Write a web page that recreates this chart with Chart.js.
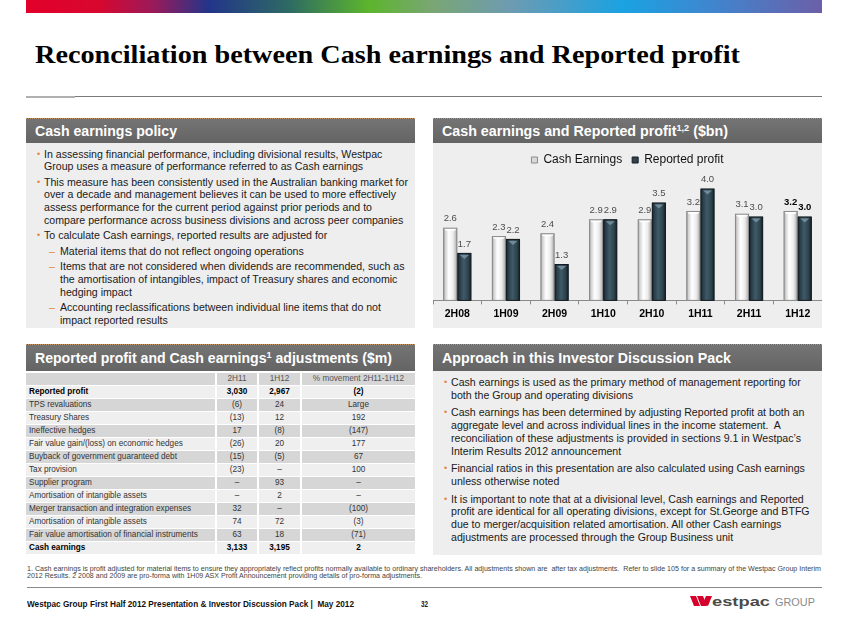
<!DOCTYPE html>
<html lang="en">
<head>
  <meta charset="UTF-8" />
  <title>Reconciliation between Cash earnings and Reported profit</title>
  <script src="https://cdn.jsdelivr.net/npm/chart.js@4"></script>
  <style>
    html, body { margin: 0; padding: 0; }
    body {
      width: 848px; height: 635px; position: relative; overflow: hidden;
      background: #fff; font-family: "Liberation Sans", Arial, sans-serif; color: #1a1a1a;
    }
    .abs { position: absolute; }
    .fit { white-space: nowrap; display: inline-block; transform-origin: left center; }
    .topbar {
      left: 26px; top: 0; width: 796px; height: 13px;
      background: linear-gradient(90deg, #e2002a 0%, #d8072e 9%, #9a1a5a 16%, #22358a 23%, #2e6a64 33%, #5cb52c 43%, #7aa674 51%, #6d9bb2 61%, #1aa2e2 75%, #3f86cf 86%, #6b5fa8 100%);
    }
    .title {
      left: 35px; top: 40px; font-family: "Liberation Serif", "Times New Roman", serif;
      font-weight: bold; font-size: 25px; color: #000; line-height: 30px;
    }
    .rule1 { left: 75px; top: 96px; width: 747px; height: 1px; background: #7a7a7a; }
    .rule1b { left: 26px; top: 96px; width: 49px; height: 2px; background: #b0b0b0; }
    .head {
      height: 25px; background: linear-gradient(#747474, #646464);
      border-top: 1px dotted #c7935e; box-sizing: border-box;
      color: #fff; font-weight: bold; font-size: 14px; line-height: 24px; padding-left: 9px;
    }
    .head sup { font-size: 9px; line-height: 0; vertical-align: 5px; }
    .pane { background: #eeeeee; }
    .txt { font-size: 10.6px; line-height: 12.7px; white-space: nowrap; }
    .txt .p { position: relative; padding-left: 18px; margin-top: 2.8px; }
    .txt .p:first-child { margin-top: 0; }
    .txt .p::before { content: "\2022"; position: absolute; left: 11px; top: 0; color: #e8843c; font-size: 9px; }
    .txt .s { position: relative; padding-left: 34px; margin-top: 2.8px; }
    .txt .s::before { content: "\2013"; position: absolute; left: 23px; top: 0; color: #e8843c; }
    .txt2 .p { margin-top: 5px; }
    .tbl {
      left: 26px; top: 373px; width: 389px; background: #fff;
      display: grid; grid-template-columns: 189px 40px 41px 113px; column-gap: 2px; row-gap: 1px;
      grid-auto-rows: 12px; font-size: 8.2px; line-height: 12px; color: #333;
    }
    .tbl div { text-align: center; white-space: nowrap; overflow: hidden; }
    .tbl div.lab { text-align: left; padding-left: 3px; }
    .tbl .g { background: #d6d6d6; }
    .tbl .l { background: #efefef; }
    .tbl .b { font-weight: bold; color: #000; }
    .tbl .h { color: #555; }
    .foot { font-size: 6.6px; line-height: 6.4px; color: #444; left: 27px; }
    .rule2 { left: 27px; top: 587px; width: 795px; height: 1px; background: #8a8a8a; }
    .ftext { left: 27px; top: 598px; font-size: 8.4px; font-weight: bold; color: #111; line-height: 12px; }
    .pnum { left: 421px; top: 598px; font-size: 8.4px; font-weight: bold; line-height: 12px; }
  </style>
</head>
<body>

<div class="abs topbar"></div>
<div class="abs title"><span class="fit" data-w="705">Reconciliation between Cash earnings and Reported profit</span></div>
<div class="abs rule1"></div>
<div class="abs rule1b"></div>

<!-- top left: policy text -->
<div class="abs head" style="left:26px; top:118px; width:389px;"><span class="fit" data-w="142">Cash earnings policy</span></div>
<div class="abs pane txt" style="left:26px; top:143px; width:389px; height:185px; box-sizing:border-box; padding-top:4.5px;">
  <div class="p">In assessing financial performance, including divisional results, Westpac<br>Group uses a measure of performance referred to as Cash earnings</div>
  <div class="p">This measure has been consistently used in the Australian banking market for<br>over a decade and management believes it can be used to more effectively<br>assess performance for the current period against prior periods and to<br>compare performance across business divisions and across peer companies</div>
  <div class="p">To calculate Cash earnings, reported results are adjusted for</div>
  <div class="s">Material items that do not reflect ongoing operations</div>
  <div class="s">Items that are not considered when dividends are recommended, such as<br>the amortisation of intangibles, impact of Treasury shares and economic<br>hedging impact</div>
  <div class="s">Accounting reclassifications between individual line items that do not<br>impact reported results</div>
</div>

<!-- top right: chart -->
<div class="abs head" style="left:433px; top:118px; width:389px;"><span class="fit" data-w="286">Cash earnings and Reported profit<sup>1,2</sup> ($bn)</span></div>
<div class="abs pane" style="left:433px; top:143px; width:389px; height:185px;">
  <canvas id="profitChart"></canvas>
</div>

<!-- bottom left: table -->
<div class="abs head" style="left:26px; top:344px; width:389px; height:27px; line-height:26px;"><span class="fit" data-w="357">Reported profit and Cash earnings<sup>1</sup> adjustments ($m)</span></div>
<div class="abs tbl" id="adjTable"></div>

<!-- bottom right: approach text -->
<div class="abs head" style="left:433px; top:344px; width:389px; height:27px; line-height:26px;"><span class="fit" data-w="289">Approach in this Investor Discussion Pack</span></div>
<div class="abs pane txt txt2" style="left:433px; top:371px; width:389px; height:184px; box-sizing:border-box; padding-top:5px;">
  <div class="p">Cash earnings is used as the primary method of management reporting for<br>both the Group and operating divisions</div>
  <div class="p">Cash earnings has been determined by adjusting Reported profit at both an<br>aggregate level and across individual lines in the income statement.&nbsp; A<br>reconciliation of these adjustments is provided in sections 9.1 in Westpac’s<br>Interim Results 2012 announcement</div>
  <div class="p">Financial ratios in this presentation are also calculated using Cash earnings<br>unless otherwise noted</div>
  <div class="p">It is important to note that at a divisional level, Cash earnings and Reported<br>profit are identical for all operating divisions, except for St.George and BTFG<br>due to merger/acquisition related amortisation. All other Cash earnings<br>adjustments are processed through the Group Business unit</div>
</div>

<!-- footer -->
<div class="abs foot" style="top:566px;"><span class="fit" data-w="794">1. Cash earnings is profit adjusted for material items to ensure they appropriately reflect profits normally available to ordinary shareholders. All adjustments shown are&nbsp; after tax adjustments.&nbsp; Refer to slide 105 for a summary of the Westpac Group Interim</span></div>
<div class="abs foot" style="top:573px;"><span class="fit" data-w="395">2012 Results. 2 2008 and 2009 are pro-forma with 1H09 ASX Profit Announcement providing details of pro-forma adjustments.</span></div>
<div class="abs rule2"></div>
<div class="abs ftext"><span class="fit" data-w="327">Westpac Group First Half 2012 Presentation &amp; Investor Discussion Pack |&nbsp; May 2012</span></div>
<div class="abs pnum"><span class="fit" data-w="7">32</span></div>
<svg class="abs" style="left:688px; top:592px;" width="134" height="18" viewBox="0 0 134 18">
  <polygon points="2,4 8,4 12,14 6,14" fill="#d5002b"/>
  <polygon points="9,4 15,4 19,14 13,14" fill="#d5002b"/>
  <polygon points="18,4 24,4 20,14 15,11" fill="#d5002b"/>
  <text x="24" y="14" font-family="Liberation Sans, Arial, sans-serif" font-weight="bold" font-size="13.5" fill="#4a4a4a" textLength="58" lengthAdjust="spacingAndGlyphs">estpac</text>
  <text x="87" y="14" font-family="Liberation Sans, Arial, sans-serif" font-size="11.5" fill="#8a8a8a" textLength="40" lengthAdjust="spacingAndGlyphs">GROUP</text>
</svg>

<script>
  // chart data ($bn)
  const periods = ['2H08', '1H09', '2H09', '1H10', '2H10', '1H11', '2H11', '1H12'];
  const cashEarnings = [2.6, 2.3, 2.4, 2.9, 2.9, 3.2, 3.1, 3.2];
  const reportedProfit = [1.7, 2.2, 1.3, 2.9, 3.5, 4.0, 3.0, 3.0];

  // table data ($m)
  const tableHead = ['', '2H11', '1H12', '% movement 2H11-1H12'];
  const rowLabels = ['Reported profit', 'TPS revaluations', 'Treasury Shares', 'Ineffective hedges',
    'Fair value gain/(loss) on economic hedges', 'Buyback of government guaranteed debt', 'Tax provision',
    'Supplier program', 'Amortisation of intangible assets', 'Merger transaction and integration expenses',
    'Amortisation of intangible assets', 'Fair value amortisation of financial instruments', 'Cash earnings'];
  const col2H11 = ['3,030', '(6)', '(13)', '17', '(26)', '(15)', '(23)', '–', '–', '32', '74', '63', '3,133'];
  const col1H12 = ['2,967', '24', '12', '(8)', '20', '(5)', '–', '93', '2', '–', '72', '18', '3,195'];
  const colMove = ['(2)', 'Large', '192', '(147)', '177', '67', '100', '–', '–', '(100)', '(3)', '(71)', '2'];
  const boldRows = ['Reported profit', 'Cash earnings'];

  // build table
  const tbl = document.getElementById('adjTable');
  tableHead.forEach((t, i) => {
    const d = document.createElement('div');
    d.className = 'g h' + (i === 0 ? ' lab' : '');
    d.textContent = t;
    tbl.appendChild(d);
  });
  rowLabels.forEach((lab, r) => {
    const shade = r % 2 === 0 ? 'l' : 'g';
    const bold = boldRows.includes(lab) ? ' b' : '';
    [lab, col2H11[r], col1H12[r], colMove[r]].forEach((t, i) => {
      const d = document.createElement('div');
      d.className = shade + bold + (i === 0 ? ' lab' : '');
      d.textContent = t;
      tbl.appendChild(d);
    });
  });

  // squeeze/stretch single-line texts to the widths seen on the slide
  document.querySelectorAll('.fit').forEach(el => {
    const w = +el.dataset.w;
    const real = el.getBoundingClientRect().width;
    if (real > 0) el.style.transform = `scaleX(${w / real})`;
  });

  // shading so the bars look like the rounded columns of the slide
  const barShade = {
    id: 'barShade',
    afterDatasetsDraw(chart) {
      const c = chart.ctx;
      chart.data.datasets.forEach((ds, di) => {
        chart.getDatasetMeta(di).data.forEach(bar => {
          const { x, y, base, width } = bar.getProps(['x', 'y', 'base', 'width'], true);
          const l = x - width / 2, r = x + width / 2;
          const g = c.createLinearGradient(l, 0, r, 0);
          if (di === 0) {
            g.addColorStop(0, '#9c9c9c');
            g.addColorStop(0.15, '#d2d2d2');
            g.addColorStop(0.4, '#ffffff');
            g.addColorStop(0.7, '#ececec');
            g.addColorStop(0.9, '#bdbdbd');
            g.addColorStop(1, '#8e8e8e');
          } else {
            g.addColorStop(0, '#18232a');
            g.addColorStop(0.2, '#2c404b');
            g.addColorStop(0.45, '#3f5a68');
            g.addColorStop(0.75, '#2f4550');
            g.addColorStop(1, '#141d22');
          }
          c.save();
          c.fillStyle = g;
          c.fillRect(l + 0.5, y + 0.5, width - 1, base - y - 0.5);
          // top cap
          if (di === 0) {
            c.fillStyle = 'rgba(255,255,255,0.9)';
            c.beginPath();
            c.moveTo(l + 0.5, y + 0.5); c.lineTo(r - 0.5, y + 0.5);
            c.lineTo(r - 2.5, y + 3); c.lineTo(l + 2.5, y + 3); c.closePath();
            c.fill();
            c.strokeStyle = '#8a8a8a';
          } else {
            c.fillStyle = '#6f8b99';
            c.beginPath();
            c.moveTo(l + 2.5, y + 2); c.lineTo(r - 2.5, y + 2);
            c.lineTo(x, y + 6); c.closePath();
            c.fill();
            c.strokeStyle = '#141c21';
          }
          c.lineWidth = 1;
          c.strokeRect(l + 0.5, y + 0.5, width - 1, base - y - 0.5);
          c.restore();
        });
      });
    }
  };

  // value labels above each bar, last period in bold
  const valueLabels = {
    id: 'valueLabels',
    afterDatasetsDraw(chart) {
      const c = chart.ctx;
      c.save();
      c.textAlign = 'center';
      c.textBaseline = 'middle';
      chart.data.datasets.forEach((ds, di) => {
        chart.getDatasetMeta(di).data.forEach((bar, i) => {
          const last = i === periods.length - 1;
          c.font = (last ? 'bold 9.5px ' : '9.5px ') + '"Liberation Sans", Arial, sans-serif';
          c.fillStyle = last ? '#000' : '#4d4d4d';
          c.fillText(ds.data[i].toFixed(1), bar.x, bar.y - 9);
        });
      });
      c.restore();
    }
  };

  const font = '"Liberation Sans", Arial, sans-serif';
  new Chart(document.getElementById('profitChart'), {
    type: 'bar',
    data: {
      labels: periods,
      datasets: [
        {
          label: 'Cash Earnings',
          data: cashEarnings,
          backgroundColor: '#d9d9d9',
          borderColor: '#8a8a8a',
          borderWidth: 1,
          categoryPercentage: 0.58,
          barPercentage: 1
        },
        {
          label: 'Reported profit',
          data: reportedProfit,
          backgroundColor: '#2f4450',
          borderColor: '#141c21',
          borderWidth: 1,
          categoryPercentage: 0.58,
          barPercentage: 1
        }
      ]
    },
    options: {
      responsive: true,
      maintainAspectRatio: false,
      animation: false,
      layout: { padding: { top: 1, bottom: 5, left: 0, right: 0 } },
      scales: {
        x: {
          grid: { display: true, drawOnChartArea: false, drawTicks: true, tickLength: 4, color: '#8a8a8a', offset: true },
          border: { display: true, color: '#8a8a8a' },
          ticks: { color: '#000', padding: 3, font: { family: font, size: 10.5, weight: 'bold' } }
        },
        y: { display: false, min: 0, max: 4.45 }
      },
      plugins: {
        legend: {
          position: 'top',
          labels: { boxWidth: 6, boxHeight: 6, padding: 10, color: '#111', font: { family: font, size: 12 } }
        },
        tooltip: { enabled: false }
      }
    },
    plugins: [barShade, valueLabels]
  });
</script>

</body>
</html>
